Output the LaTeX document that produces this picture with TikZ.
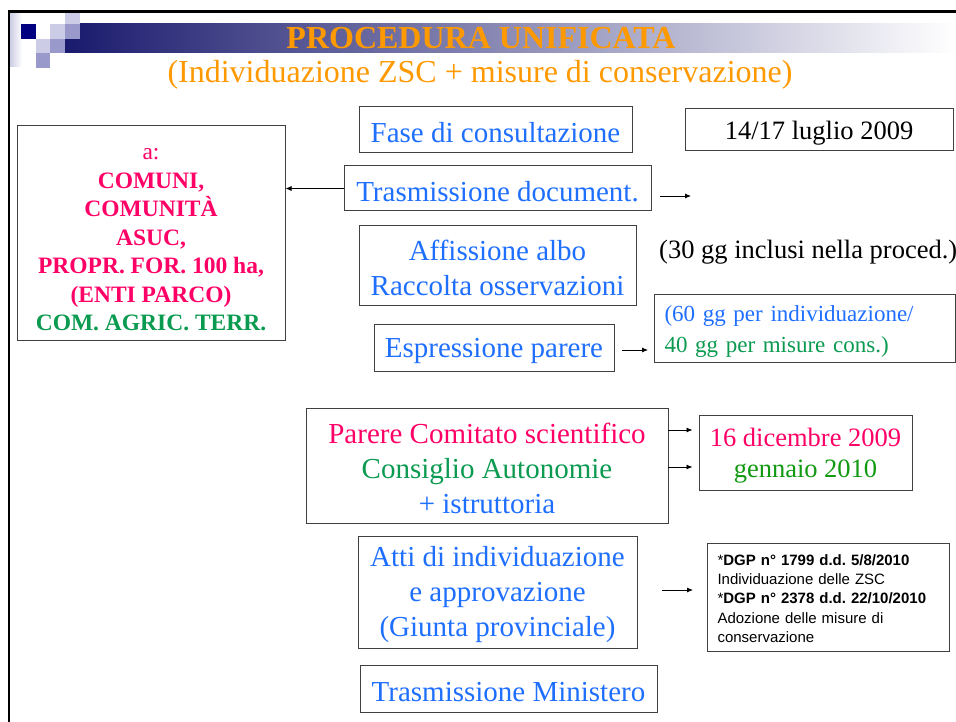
\documentclass[tikz,border=0pt]{standalone}
\usepackage{fontspec}
\setmainfont{Liberation Serif}
\newfontfamily\arialf{Liberation Sans}
\usetikzlibrary{arrows.meta}
\frenchspacing
\definecolor{orangec}{HTML}{FF9900}
\definecolor{bluec}{HTML}{1F6FFF}
\definecolor{pinkc}{HTML}{FF0066}
\definecolor{greenc}{HTML}{0A9A50}
\definecolor{greenb}{HTML}{119911}
\definecolor{boxc}{HTML}{404040}
\definecolor{navyc}{HTML}{000080}
\definecolor{barnavy}{RGB}{26,26,110}
\definecolor{lightsq}{HTML}{CCCCE6}
\definecolor{medsq}{HTML}{9999CC}
\newcommand{\dn}[1]{\rule{0pt}{#1}}
\tikzset{
  boxnode/.style={draw=boxc, line width=1pt, inner sep=0pt, align=center},
  bigtxt/.style={font=\fontsize{29}{35}\selectfont},
  arr/.style={-{Latex[length=6pt,width=5pt]}, line width=0.8pt}
}
\begin{document}
\begin{tikzpicture}[x=1pt,y=-1pt]
\frenchspacing
\useasboundingbox (0,0) rectangle (956,722);
\fill[white] (0,0) rectangle (956,722);
% header decoration
\shade[left color=barnavy, right color=white] (65,24) rectangle (956,53);
\shade[left color=lightsq, right color=white] (10,13) rectangle (22,67);
\fill[lightsq] (65,13) rectangle (80,24);
\fill[navyc] (21,24) rectangle (36,39);
\fill[lightsq] (50,24) rectangle (65,39);
\fill[medsq] (65,24) rectangle (80,39);
\fill[lightsq] (36,39) rectangle (50,53);
\fill[medsq] (50,39) rectangle (65,53);
\fill[medsq] (36,53) rectangle (50,68);
% frame
\draw[line width=2.5pt] (9,722) -- (9,11.5) -- (956,11.5);
% titles
\node[text=orangec, font=\fontsize{32}{38}\selectfont\bfseries] (title) at (481,38) {PROCEDURA UNIFICATA};
\node[text=orangec, font=\fontsize{32}{38}\selectfont] (subtitle) at (480,75) {(Individuazione ZSC + misure di conservazione)};
% boxes
\node[boxnode, bigtxt, text=bluec, minimum width=273pt, minimum height=46pt] (fase) at (495.5,130) {\dn{26pt}Fase di consultazione};
\node[boxnode, font=\fontsize{26.5}{32}\selectfont, minimum width=268pt, minimum height=42pt] (luglio) at (819,130) {\dn{24pt}14/17 luglio 2009};
\node[boxnode, bigtxt, text=bluec, minimum width=307pt, minimum height=45pt] (trasm) at (497.5,188.5) {\dn{26pt}Trasmissione document.};
\node[boxnode, font=\fontsize{23.5}{28.5}\selectfont, minimum width=268pt, minimum height=214pt] (left) at (151,233)
  {\textcolor{pinkc}{\dn{25pt}a:}\\
   \textcolor{pinkc}{\bfseries COMUNI,}\\
   \textcolor{pinkc}{\bfseries COMUNITÀ}\\
   \textcolor{pinkc}{\bfseries ASUC,}\\
   \textcolor{pinkc}{\bfseries PROPR. FOR. 100 ha,}\\
   \textcolor{pinkc}{\bfseries (ENTI PARCO)}\\
   \textcolor{greenc}{\bfseries COM. AGRIC. TERR.}};
\node[boxnode, bigtxt, text=bluec, minimum width=277pt, minimum height=79pt] (affis) at (497.5,265.5) {\dn{26pt}Affissione albo\\Raccolta osservazioni};
\node[anchor=west, inner sep=0pt, font=\fontsize{26.5}{32}\selectfont] (gg30) at (659,252) {(30 gg inclusi nella proced.)};
\node[boxnode, bigtxt, text=bluec, minimum width=240pt, minimum height=47pt] (espr) at (494,347.5) {\dn{26pt}Espressione parere};
\node[draw=boxc, line width=1pt, anchor=west, inner xsep=10pt, inner ysep=0pt, align=left, text width=281pt, minimum height=68pt, font=\fontsize{23}{31}\selectfont] (gg60) at (654,328)
  {\textcolor{bluec}{\dn{22pt}(60 gg per individuazione/}\\\textcolor{greenc}{40 gg per misure cons.)}};
\node[boxnode, bigtxt, minimum width=362pt, minimum height=115pt] (parere) at (487,465.5)
  {\textcolor{pinkc}{\dn{26pt}Parere Comitato scientifico}\\\textcolor{greenc}{Consiglio Autonomie}\\\textcolor{bluec}{+ istruttoria}};
\node[boxnode, font=\fontsize{26.5}{31}\selectfont, minimum width=213pt, minimum height=75pt] (dec) at (805.5,452.5)
  {\textcolor{pinkc}{\dn{24pt}16 dicembre 2009}\\\textcolor{greenb}{gennaio 2010}};
\node[boxnode, bigtxt, text=bluec, minimum width=279pt, minimum height=112pt] (atti) at (497.5,592)
  {\dn{26pt}Atti di individuazione\\e approvazione\\(Giunta provinciale)};
\node[draw=boxc, line width=1pt, anchor=west, inner xsep=10pt, inner ysep=0pt, align=left, text width=222pt, minimum height=108pt, font=\arialf\fontsize{15}{19.3}\selectfont] (dgp) at (707,597)
  {\dn{14pt}{*}\textbf{DGP n° 1799 d.d. 5/8/2010}\\Individuazione delle ZSC\\{}{*}\textbf{DGP n° 2378 d.d. 22/10/2010}\\Adozione delle misure di\\conservazione};
\node[boxnode, bigtxt, text=bluec, minimum width=297pt, minimum height=47pt] (minist) at (508.5,688.5) {\dn{26pt}Trasmissione Ministero};
% connectors
\draw[arr] (trasm.west) -- (trasm.west -| left.east);
\coordinate (ta) at (660,196);
\coordinate (tb) at (691,196);
\draw[arr] (ta) -- (tb);
\coordinate (ea) at (622,350);
\draw[arr] (ea) -- ([xshift=-6pt]gg60.west |- ea);
\coordinate (pa) at (668,430);
\coordinate (pb) at (668,467);
\draw[arr] (pa) -- ([xshift=-6pt]dec.west |- pa);
\draw[arr] (pb) -- ([xshift=-6pt]dec.west |- pb);
\coordinate (aa) at (662,590);
\draw[arr] (aa) -- ([xshift=-14pt]dgp.west |- aa);
\end{tikzpicture}
\end{document}
